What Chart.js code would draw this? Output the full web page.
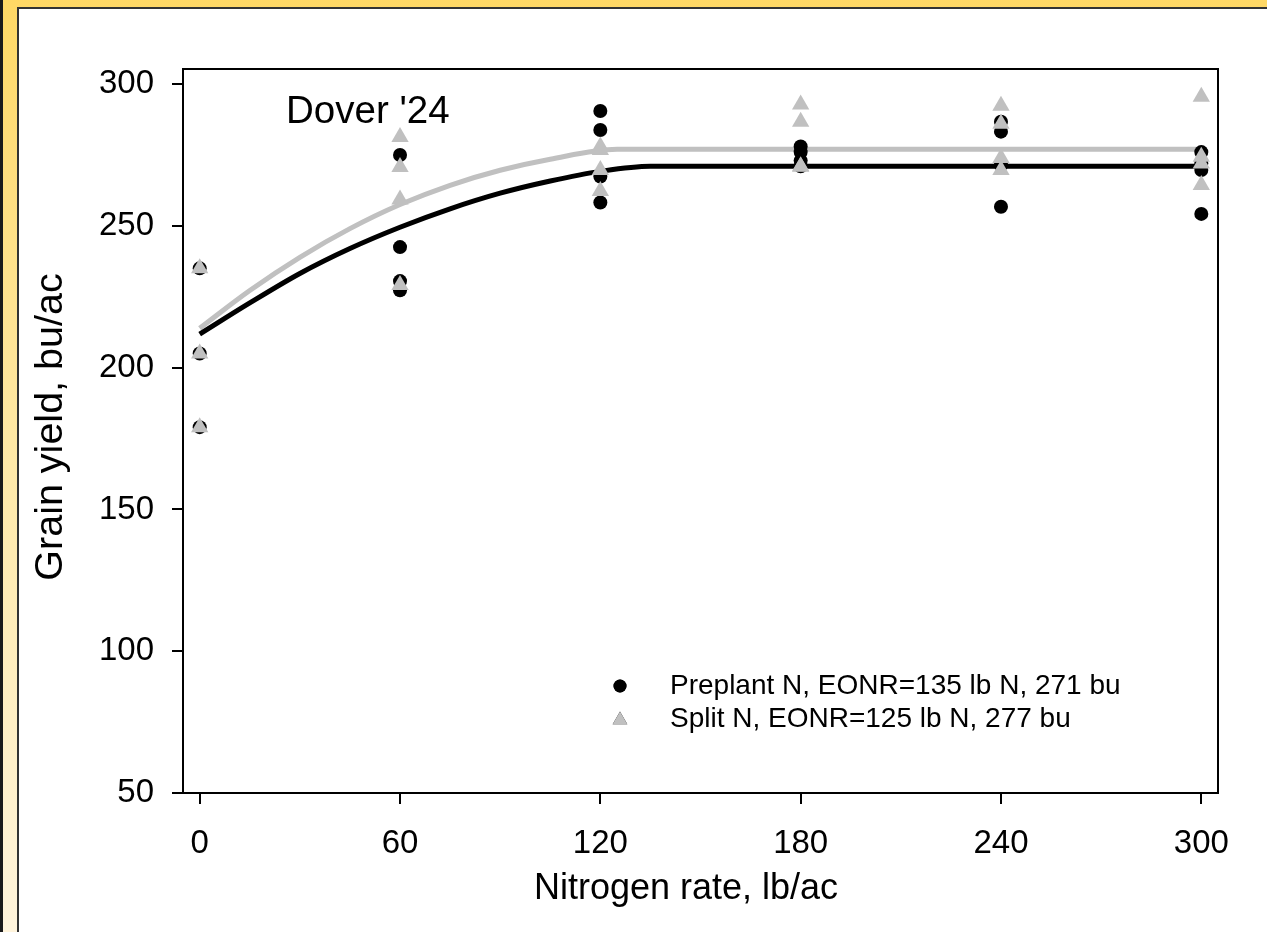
<!DOCTYPE html>
<html>
<head>
<meta charset="utf-8">
<script src="https://cdn.jsdelivr.net/npm/chart.js@4.4.1/dist/chart.umd.min.js"></script>
<style>
  html, body { margin:0; padding:0; width:1267px; height:932px; overflow:hidden; background:#fff; }
  #frame { position:absolute; left:0; top:0; width:1264px; height:932px;
           border-left:3px solid #1a1a1a;
           background:linear-gradient(to bottom, #ffd865 0%, #ffe9a8 50%, #fff4dc 100%); }
  #inner { position:absolute; left:14px; top:7px; right:0; bottom:0; background:#fff;
           border-left:2px solid #333; border-top:2px solid #333; }
  #wrap { position:absolute; left:0; top:0; width:1267px; height:932px; }
</style>
</head>
<body>
<div id="frame"><div id="inner"></div></div>
<div id="wrap"><canvas id="chart" width="1267" height="932"></canvas></div>
<script>
// N rate ticks (lb/ac) and y ticks (bu/ac)
const xTicks = [0, 60, 120, 180, 240, 300];
const yTicks = [50, 100, 150, 200, 250, 300];

const preplantRate  = [0, 0, 0, 60, 60, 60, 60, 120, 120, 120, 120, 180, 180, 180, 180, 240, 240, 240, 240, 300, 300, 300, 300];
const preplantYield = [235, 205, 179, 275, 242.5, 230.5, 227.3, 290.5, 283.8, 267.4, 258.2, 278, 276, 273, 271, 286.7, 283.2, 271.4, 256.7, 276, 272, 269.7, 254.2];
const splitRate  = [0, 0, 0, 60, 60, 60, 60, 120, 120, 120, 120, 180, 180, 180, 180, 240, 240, 240, 240, 300, 300, 300, 300];
const splitYield = [235, 205, 179, 281.3, 270.7, 259.3, 229.1, 278, 276.7, 269.7, 262.3, 292.8, 286.7, 271, 270.8, 292.3, 286, 273.9, 269.7, 295.5, 274.4, 272, 264.4];

// fitted quadratic-plateau curves
const preplantFitX = [0, 15, 30, 45, 60, 75, 90, 105, 120, 135, 300];
const preplantFitY = [211.8, 222.8, 233.2, 242, 249.5, 256, 261.5, 265.8, 269.2, 271, 271];
const splitFitX = [0, 15, 30, 45, 60, 75, 90, 105, 125, 300];
const splitFitY = [213.9, 227.2, 238.9, 249, 257.5, 264.3, 269.6, 273.5, 277, 277];

const legendLabels = ['Preplant N, EONR=135 lb N, 271 bu', 'Split N, EONR=125 lb N, 277 bu'];
const siteLabel = "Dover '24";

const FONT = 'Arial, "Liberation Sans", sans-serif';

function pts(xs, ys){ return xs.map((x, i) => ({x, y: ys[i]})); }

// box, titles, site label and legend
const extras = {
  id: 'extras',
  afterDraw(chart){
    const ctx = chart.ctx, a = chart.chartArea;
    ctx.save();
    ctx.strokeStyle = '#000';
    ctx.lineWidth = 2;
    ctx.strokeRect(a.left, a.top, a.right - a.left, a.bottom - a.top);

    ctx.fillStyle = '#000';
    ctx.textBaseline = 'alphabetic';
    ctx.font = '38.5px ' + FONT;
    ctx.textAlign = 'left';
    ctx.fillText(siteLabel, 286, 123);

    ctx.font = '36px ' + FONT;
    ctx.textAlign = 'center';
    ctx.fillText('Nitrogen rate, lb/ac', 686, 899);
    ctx.save();
    ctx.font = '39.5px ' + FONT;
    ctx.translate(62, 427);
    ctx.rotate(-Math.PI / 2);
    ctx.fillText('Grain yield, bu/ac', 0, 0);
    ctx.restore();

    // legend
    const ds = chart.data.datasets;
    const rows = [686, 719];
    ctx.font = '28px ' + FONT;
    ctx.textAlign = 'left';
    ctx.textBaseline = 'middle';
    [0, 1].forEach((k, i) => {
      const d = ds[k];
      Chart.helpers.drawPoint(ctx, {
        pointStyle: d.pointStyle, radius: k === 0 ? 6.5 : 8.5, rotation: 0, borderWidth: 0
      }, 620, rows[i] + (k === 1 ? 1 : 0));
      ctx.fillStyle = d.backgroundColor;
      ctx.fill();
      ctx.fillStyle = '#000';
      ctx.fillText(legendLabels[i], 670, rows[i]);
    });
    ctx.restore();
  }
};

new Chart(document.getElementById('chart'), {
  type: 'scatter',
  data: {
    datasets: [
      { label: legendLabels[0], data: pts(preplantRate, preplantYield), pointStyle: 'circle',
        pointRadius: 7, backgroundColor: '#000', borderWidth: 0, order: 2 },
      { label: legendLabels[1], data: pts(splitRate, splitYield), pointStyle: 'triangle',
        pointRadius: 10, backgroundColor: '#c0c0c0', borderWidth: 0, order: 1 },
      { type: 'line', label: 'preplant fit', data: pts(preplantFitX, preplantFitY), borderColor: '#000',
        borderWidth: 5, pointRadius: 0, cubicInterpolationMode: 'monotone', fill: false, order: 3 },
      { type: 'line', label: 'split fit', data: pts(splitFitX, splitFitY), borderColor: '#c0c0c0',
        borderWidth: 5, pointRadius: 0, cubicInterpolationMode: 'monotone', fill: false, order: 4 }
    ]
  },
  options: {
    responsive: false,
    animation: false,
    layout: { padding: { left: 0, top: 69, right: 49, bottom: 0 } },
    plugins: { legend: { display: false }, tooltip: { enabled: false } },
    scales: {
      x: {
        type: 'linear', min: -5, max: 305,
        afterBuildTicks: s => { s.ticks = xTicks.map(v => ({value: v})); },
        afterFit: s => { s.height = 139; },
        grid: { display: true, drawOnChartArea: false, drawTicks: true, tickLength: 11, color: '#000', lineWidth: 2 },
        border: { display: true, color: '#000', width: 2 },
        ticks: { color: '#000', font: { size: 33, family: FONT }, padding: 20, maxRotation: 0 }
      },
      y: {
        type: 'linear', min: 50, max: 305.3,
        afterBuildTicks: s => { s.ticks = yTicks.map(v => ({value: v})); },
        afterFit: s => { s.width = 183; },
        grid: { display: true, drawOnChartArea: false, drawTicks: true, tickLength: 11, color: '#000', lineWidth: 2 },
        border: { display: true, color: '#000', width: 2 },
        ticks: { color: '#000', font: { size: 33, family: FONT }, padding: 18 }
      }
    }
  },
  plugins: [extras]
});
</script>
</body>
</html>
